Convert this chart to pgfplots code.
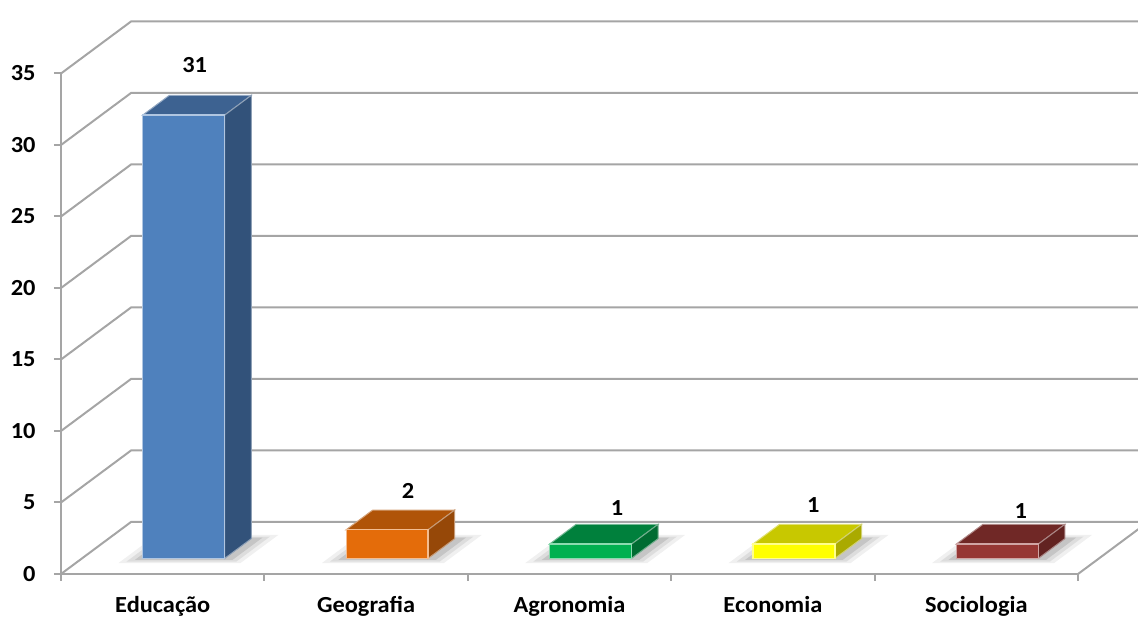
\documentclass[border=0pt]{standalone}
\usepackage{fontspec}
\setmainfont{Carlito}[FakeStretch=1.06]
\usepackage{pgfplots}
\usepackage{pgfplotstable}
\pgfplotsset{compat=1.18}

\definecolor{gridgray}{RGB}{165,165,165}
\definecolor{eduF}{RGB}{79,129,189}
\definecolor{eduT}{RGB}{61,98,145}
\definecolor{eduS}{RGB}{50,82,122}
\definecolor{geoF}{RGB}{228,108,10}
\definecolor{geoT}{RGB}{176,84,8}
\definecolor{geoS}{RGB}{150,72,8}
\definecolor{agrF}{RGB}{0,176,80}
\definecolor{agrT}{RGB}{0,128,60}
\definecolor{agrS}{RGB}{0,108,50}
\definecolor{ecoF}{RGB}{255,255,0}
\definecolor{ecoT}{RGB}{200,200,0}
\definecolor{ecoS}{RGB}{170,170,0}
\definecolor{socF}{RGB}{150,55,52}
\definecolor{socT}{RGB}{112,40,38}
\definecolor{socS}{RGB}{98,35,33}

\newcommand\lab{\fontsize{11.5}{14}\selectfont\bfseries}

% number of works per area; dx/dy nudge the value labels (pt)
\pgfplotstableread{
x    v   dx     dy
0.5  31  -5     17.25
1.5  2    0     11.5
2.5  1    2.75  10.25
3.5  1   -0.75  11.75
4.5  1    1.25  8.5
}\counts

% one column as a box: centre, value, front, top and side colours
\newcommand\cuboid[5]{%
  \pgfmathsetmacro\xa{#1-0.2015}\pgfmathsetmacro\xb{#1+0.2015}%
  \pgfmathsetmacro\sa{#1-0.29}\pgfmathsetmacro\sb{#1+0.31}%
  \pgfmathsetmacro\sc{#1-0.26}\pgfmathsetmacro\sd{#1+0.28}%
  \pgfmathsetmacro\se{#1-0.23}\pgfmathsetmacro\sf{#1+0.25}%
  \edef\doit{%
    \noexpand\addplot3[fill=black, fill opacity=0.06, draw=none] coordinates {(\sa,0.21,0) (\sb,0.21,0) (\sb,0.75,0) (\sa,0.75,0)};
    \noexpand\addplot3[fill=black, fill opacity=0.08, draw=none] coordinates {(\sc,0.24,0) (\sd,0.24,0) (\sd,0.72,0) (\sc,0.72,0)};
    \noexpand\addplot3[fill=black, fill opacity=0.11, draw=none] coordinates {(\se,0.27,0) (\sf,0.27,0) (\sf,0.70,0) (\se,0.70,0)};
    \noexpand\addplot3[fill=#4, draw=#4!55!white, line width=0.5pt] coordinates {(\xa,0.3,#2) (\xb,0.3,#2) (\xb,0.68,#2) (\xa,0.68,#2)} --cycle;
    \noexpand\addplot3[fill=#5, draw=#5!55!white, line width=0.5pt] coordinates {(\xb,0.3,0) (\xb,0.68,0) (\xb,0.68,#2) (\xb,0.3,#2)} --cycle;
    \noexpand\addplot3[fill=#3, draw=#3!45!white, line width=0.6pt] coordinates {(\xa,0.3,0) (\xb,0.3,0) (\xb,0.3,#2) (\xa,0.3,#2)} --cycle;
  }\doit}

\begin{document}
\begin{tikzpicture}
% walls, floor and boxes in an oblique projection
\begin{axis}[
  anchor=origin, at={(0,0)},
  x={(101.7pt,0pt)}, y={(35pt,26pt)}, z={(0pt,7.15pt)},
  xmin=0, xmax=5, ymin=0, ymax=1, zmin=0, zmax=35,
  hide axis, clip=false,
  /pgf/number format/assume math mode=true,
]
\pgfplotsinvokeforeach{0,5,...,35}{
  \addplot3[gridgray, line width=1pt] coordinates {(0,0,#1) (0,1,#1) (5,1,#1)};
}
\addplot3[gridgray, line width=1pt] coordinates {(5,0,0) (5,1,0)};

\cuboid{0.5}{31}{eduF}{eduT}{eduS}
\cuboid{1.5}{2}{geoF}{geoT}{geoS}
\cuboid{2.5}{1}{agrF}{agrT}{agrS}
\cuboid{3.5}{1}{ecoF}{ecoT}{ecoS}
\cuboid{4.5}{1}{socF}{socT}{socS}

\addplot3[draw=none, mark=none, point meta=explicit, nodes near coords,
  visualization depends on={\thisrow{dx}\as\labdx},
  visualization depends on={\thisrow{dy}\as\labdy},
  nodes near coords style={font=\lab, anchor=center,
    xshift=\labdx pt, yshift=\labdy pt}]
  table[x=x, y expr=0.6, z=v, meta=v] {\counts};
\end{axis}

% front frame with ticks and labels
\begin{axis}[
  anchor=origin, at={(0,0)},
  x=101.7pt, y=7.15pt,
  xmin=0, xmax=5, ymin=0, ymax=35,
  axis lines*=left, clip=false,
  axis line style={gridgray, line width=1pt},
  tick style={gridgray, line width=1pt},
  tick align=outside,
  major tick length=3.5pt,
  ytick={0,5,...,35},
  xtick={0,1,2,3,4,5}, xticklabels={},
  extra x ticks={0.5,1.5,2.5,3.5,4.5},
  extra x tick labels={Educação,Geografia,Agronomia,Economia,Sociologia},
  extra x tick style={major tick length=0pt,
    xticklabel style={anchor=base, yshift=-19.5pt}},
  ticklabel style={font=\lab, text=black},
  yticklabel style={anchor=east, inner sep=0pt, xshift=-9pt},
  /pgf/number format/assume math mode=true,
]
\end{axis}
\pgfresetboundingbox
\path[use as bounding box] (-30.5pt,-22.5pt) rectangle (538.5pt,287pt);
\end{tikzpicture}
\end{document}
